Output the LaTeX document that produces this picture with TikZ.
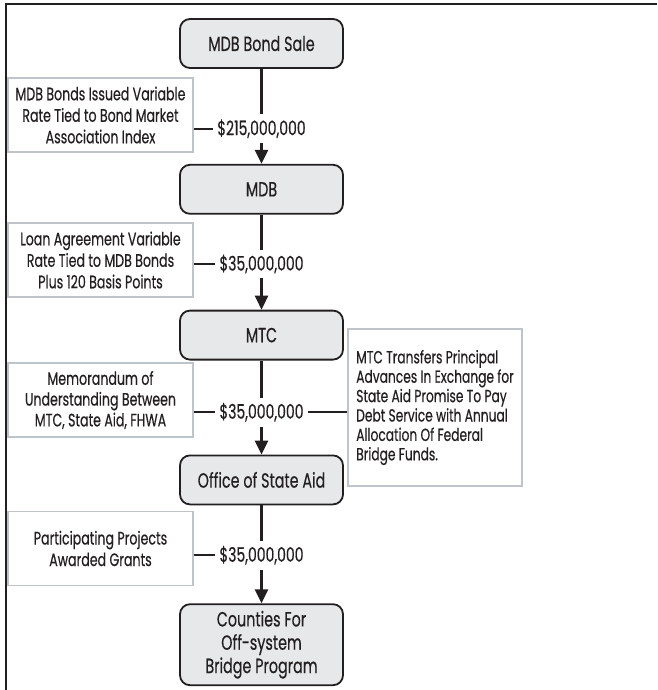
\documentclass[tikz,border=0pt]{standalone}
\usepackage{fontspec}
\setmainfont[FakeStretch=0.7, FakeBold=0.4]{Poppins}
\usetikzlibrary{arrows.meta, positioning}
\definecolor{inkGray}{RGB}{35,31,32}
\definecolor{boxGray}{RGB}{231,232,234}
\definecolor{noteEdge}{RGB}{190,196,202}

\begin{document}
\begin{tikzpicture}[
    x=1pt, y=-1pt,
    node distance=95pt,
    stage/.style={rectangle, rounded corners=10pt, draw=inkGray, line width=1.8pt, fill=boxGray, minimum width=163pt, minimum height=49pt, align=center, text=inkGray, font=\fontsize{20.5}{23}\selectfont},
    note/.style={rectangle, draw=noteEdge, line width=1.6pt, fill=white, minimum width=185pt, minimum height=74pt, align=center, text=inkGray, font=\fontsize{18}{21.5}\selectfont},
    amount/.style={fill=white, inner xsep=3pt, inner ysep=5pt, text=inkGray, font=\fontsize{20}{22}\selectfont},
    flow/.style={draw=inkGray, line width=2.6pt, -{Triangle[width=13pt, length=14pt]}},
    tie/.style={draw=inkGray, line width=1.8pt}
]
    \useasboundingbox (0,0) rectangle (657,690);
    \draw[inkGray, line width=2pt] (6,690) -- (6,4.5) -- (657,4.5);

    % flow of funds
    \node[stage] (sale) at (261.5,43.5) {MDB Bond Sale};
    \node[stage, below=of sale] (mdb) {MDB};
    \node[stage, below=of mdb] (mtc) {MTC};
    \node[stage, below=94pt of mtc] (aid) {Office of State Aid};
    \node[stage, below=98pt of aid, minimum height=81pt, font=\fontsize{20.5}{23.3}\selectfont] (counties) {Counties For\\Off-system\\Bridge Program};

    \draw[flow] (sale) -- node[amount, pos=0.63] (amt1) {\$215,000,000} (mdb);
    \draw[flow] (mdb) -- node[amount, pos=0.52] (amt2) {\$35,000,000} (mtc);
    \draw[flow] (mtc) -- node[amount, pos=0.55] (amt3) {\$35,000,000} (aid);
    \draw[flow] (aid) -- node[amount, pos=0.51] (amt4) {\$35,000,000} (counties);

    % terms
    \node[note] (bondnote) at (100.5,115) {MDB Bonds Issued Variable\\Rate Tied to Bond Market\\Association Index};
    \node[note] (loannote) at (100.5,260) {Loan Agreement Variable\\Rate Tied to MDB Bonds\\Plus 120 Basis Points};
    \node[note, font=\fontsize{18}{20.8}\selectfont] (mounote) at (100.5,400) {Memorandum of\\Understanding Between\\MTC, State Aid, FHWA};
    \node[note] (grantnote) at (100.5,548.5) {Participating Projects\\Awarded Grants};
    \node[note, minimum width=174pt, minimum height=157pt, align=left, font=\fontsize{17.5}{19.4}\selectfont] (debtnote) at (435,407.5) {MTC Transfers Principal\\Advances In Exchange for\\State Aid Promise To Pay\\Debt Service with Annual\\Allocation Of Federal\\Bridge Funds.};

    \draw[tie] (bondnote.east |- amt1) -- (amt1.west);
    \draw[tie] (loannote.east |- amt2) -- (amt2.west);
    \draw[tie] (mounote.east |- amt3) -- (amt3.west);
    \draw[tie] (amt3.east) -- (debtnote.west |- amt3);
    \draw[tie] (grantnote.east |- amt4) -- (amt4.west);
\end{tikzpicture}
\end{document}
